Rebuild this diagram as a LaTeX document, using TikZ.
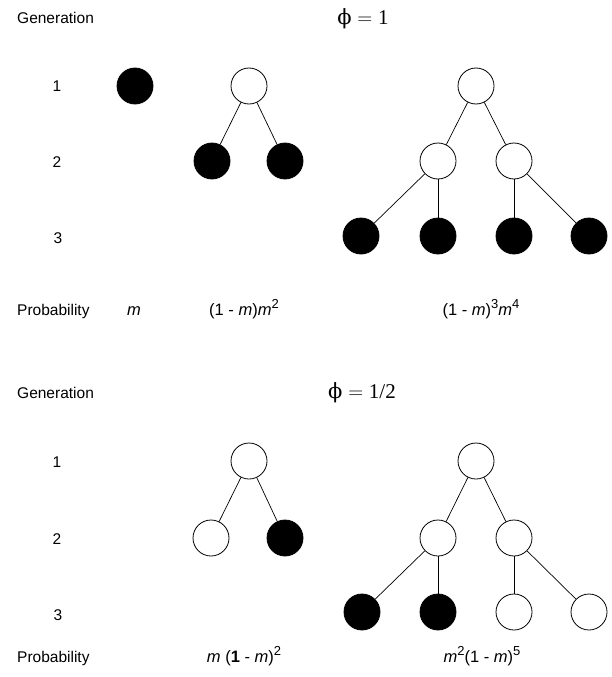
\documentclass[tikz,border=0pt]{standalone}
\usepackage{fontspec}
\setsansfont{Liberation Sans}
\newfontfamily\phifont{DejaVu Serif}
\newfontfamily\numfont{Liberation Serif}
\usepackage{tikz}
\usetikzlibrary{positioning}
\tikzset{
  every node/.style={font=\sffamily\fontsize{15.5}{18}\selectfont},
  % --- nodes
  ind/.style   = {circle, draw=black, line width=0.8pt, minimum size=36pt, inner sep=0pt},
  dead/.style  = {ind, fill=black},
  alive/.style = {ind, fill=white},
  rowlbl/.style= {anchor=west, inner sep=0pt},
  gen/.style   = {inner sep=0pt},
  prob/.style  = {inner sep=0pt, font=\sffamily\fontsize{16.5}{18}\selectfont},
  phil/.style  = {inner sep=0pt, font=\fontsize{21}{24}\selectfont},
  % --- edges
  e/.style     = {line width=0.7pt, draw=black},
}
\newcommand{\mi}{\textit{m}}
\newcommand{\pw}[1]{\raisebox{0.45em}{\fontsize{13}{13}\selectfont #1}}
\newcommand{\phieq}[1]{$\mbox{\phifont ϕ} = \mbox{\numfont #1}$}

\begin{document}
\begin{tikzpicture}[x=1pt,y=-1pt]
  \useasboundingbox (0,0) rectangle (611,677);
  % ---------- phi = 1
  \node[rowlbl] (genA) at (17,18) {Generation};
  \node[phil] (phiA) at (363,19) {\phieq{1}};
  \node[gen] (gA1) at (57,86) {1};
  \node[gen] (gA2) at (57,162) {2};
  \node[gen] (gA3) at (58,238) {3};
  \node[rowlbl] (probA) at (17,311) {Probability};

  \node[dead] (s0) at (135,86) {};

  \node[alive] (a0) at (249,86) {};
  \node[dead] (a1) at (212,161) {};
  \node[dead] (a2) at (285,161) {};
  \draw[e] (a0)--(a1); \draw[e] (a0)--(a2);

  \node[alive] (b0) at (476,86) {};
  \node[alive] (b1) at (438,161) {};
  \node[alive] (b2) at (514,161) {};
  \node[dead] (b11) at (361,236) {};
  \node[dead] (b12) at (438,236) {};
  \node[dead] (b21) at (514,236) {};
  \node[dead] (b22) at (589,236) {};
  \draw[e] (b0)--(b1); \draw[e] (b0)--(b2);
  \draw[e] (b1)--(b11); \draw[e] (b1)--(b12);
  \draw[e] (b2)--(b21); \draw[e] (b2)--(b22);

  \node[prob] (pA1) at (134,311) {\mi};
  \node[prob] (pA2) at (244,309) {(1 - \mi)\mi\pw{2}};
  \node[prob] (pA3) at (481,309) {(1 - \mi)\pw{3}\mi\pw{4}};

  % ---------- phi = 1/2
  \node[rowlbl] (genB) at (17,393) {Generation};
  \node[phil] (phiB) at (362,393) {\phieq{1/2}};
  \node[gen] (gB1) at (57,462) {1};
  \node[gen] (gB2) at (57,539) {2};
  \node[gen] (gB3) at (58,615) {3};
  \node[rowlbl] (probB) at (17,658) {Probability};

  \node[alive] (c0) at (249,461) {};
  \node[alive] (c1) at (211,538) {};
  \node[dead] (c2) at (285,538) {};
  \draw[e] (c0)--(c1); \draw[e] (c0)--(c2);

  \node[alive] (d0) at (476,461) {};
  \node[alive] (d1) at (438,538) {};
  \node[alive] (d2) at (514,538) {};
  \node[dead] (d11) at (362,612) {};
  \node[dead] (d12) at (438,612) {};
  \node[alive] (d21) at (514,612) {};
  \node[alive] (d22) at (589,612) {};
  \draw[e] (d0)--(d1); \draw[e] (d0)--(d2);
  \draw[e] (d1)--(d11); \draw[e] (d1)--(d12);
  \draw[e] (d2)--(d21); \draw[e] (d2)--(d22);

  \node[prob] (pB1) at (244,656) {\mi{} (\textbf{1} - \mi)\pw{2}};
  \node[prob] (pB2) at (482,656) {\mi\pw{2}(1 - \mi)\pw{5}};
\end{tikzpicture}
\end{document}
